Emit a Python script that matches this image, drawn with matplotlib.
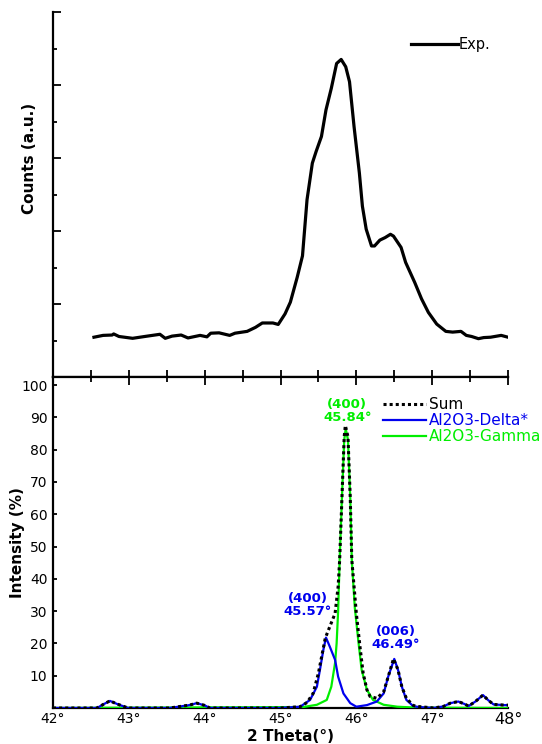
import matplotlib
matplotlib.use("Agg")
import matplotlib.pyplot as plt
from matplotlib.ticker import MultipleLocator

# ---------------- data ----------------
exp_x = [42.54, 42.66, 42.78, 42.80, 42.87, 43.05, 43.21, 43.41, 43.48, 43.57, 43.69, 43.78,
         43.94, 44.03, 44.08, 44.19, 44.33, 44.40, 44.56, 44.67, 44.76, 44.90, 44.97, 45.06,
         45.13, 45.22, 45.29, 45.35, 45.42, 45.47, 45.54, 45.60, 45.67, 45.74, 45.80, 45.86,
         45.91, 45.97, 46.04, 46.08, 46.13, 46.20, 46.24, 46.31, 46.38, 46.45, 46.49, 46.59,
         46.65, 46.77, 46.86, 46.95, 47.06, 47.18, 47.27, 47.38, 47.45, 47.52, 47.61, 47.68,
         47.77, 47.91, 48.00]
exp_y = [10.9, 11.4, 11.5, 11.8, 11.1, 10.6, 11.1, 11.7, 10.6, 11.2, 11.5, 10.7,
         11.4, 11.0, 12.0, 12.1, 11.4, 12.0, 12.5, 13.6, 14.8, 14.8, 14.4, 17.3,
         20.5, 27.3, 33.2, 48.6, 58.6, 61.8, 65.9, 73.2, 79.1, 85.9, 87.0, 85.0,
         80.9, 68.6, 55.9, 46.8, 40.5, 35.9, 35.9, 37.5, 38.2, 39.1, 38.6, 35.5,
         31.4, 25.9, 21.4, 17.7, 14.5, 12.5, 12.3, 12.5, 11.4, 11.1, 10.5, 10.8,
         10.9, 11.4, 10.9]

sum_x = [42.0, 42.58, 42.67, 42.75, 42.85, 42.99, 43.54, 43.80, 43.895, 44.0, 44.07, 45.0,
         45.26, 45.35, 45.43, 45.50, 45.56, 45.59, 45.65, 45.72, 45.76, 45.78, 45.81, 45.84,
         45.855, 45.89, 45.92, 45.94, 46.0, 46.05, 46.09, 46.14, 46.18, 46.27, 46.36, 46.42,
         46.49, 46.55, 46.60, 46.66, 46.75, 46.80, 47.02, 47.15, 47.24, 47.345, 47.42, 47.48,
         47.57, 47.67, 47.74, 47.81, 47.95, 48.0]
sum_y = [0, 0, 1.2, 2.2, 1.2, 0, 0, 0.9, 1.5, 0.8, 0, 0,
         0.4, 1.7, 4.5, 10.8, 18.0, 21.6, 25.2, 29.3, 37.6, 45.8, 65.0, 84.0,
         87.5, 84.0, 65.0, 46.0, 29.3, 18.6, 10.8, 5.6, 3.6, 3.0, 5.0, 9.7,
         15.2, 11.8, 6.6, 3.0, 0.8, 0.5, 0, 0.5, 1.5, 2.0, 1.3, 0.6,
         2.0, 4.0, 2.4, 1.1, 0.9, 0.9]

delta_x = [42.0, 42.58, 42.67, 42.75, 42.85, 42.99, 43.54, 43.80, 43.895, 44.0, 44.07, 45.0,
           45.26, 45.39, 45.48, 45.52, 45.565, 45.60, 45.65, 45.72, 45.76, 45.83, 45.92, 46.00,
           46.14, 46.27, 46.36, 46.42, 46.50, 46.55, 46.60, 46.66, 46.75, 46.82, 47.02, 47.15,
           47.24, 47.345, 47.42, 47.48, 47.57, 47.67, 47.74, 47.81, 47.95, 48.0]
delta_y = [0, 0, 1.2, 2.2, 1.2, 0, 0, 0.9, 1.5, 0.8, 0, 0,
           0.4, 2.5, 6.6, 11.8, 18.0, 21.8, 19.0, 14.9, 9.7, 4.5, 1.5, 0.4,
           0.9, 2.0, 4.5, 9.7, 15.2, 11.8, 6.6, 2.5, 0.6, 0.3, 0, 0.5,
           1.5, 2.0, 1.3, 0.6, 2.0, 4.0, 2.4, 1.1, 0.9, 0.9]

gamma_x = [42.0, 45.30, 45.48, 45.61, 45.67, 45.72, 45.74, 45.76, 45.78, 45.81, 45.84, 45.86,
           45.89, 45.92, 45.94, 45.98, 46.03, 46.07, 46.14, 46.22, 46.36, 46.54, 46.8, 48.0]
gamma_y = [0, 0.3, 1.0, 2.5, 6.6, 14.0, 20.0, 30.0, 46.0, 65.0, 83.0, 86.5,
           83.0, 65.0, 46.0, 31.0, 20.0, 11.8, 5.6, 2.5, 1.0, 0.4, 0.1, 0]

x_ticks = [42, 43, 44, 45, 46, 47, 48]
x_ticklabels = ["42°", "43°", "44°", "45°", "46°", "47°", "48°"]
y_ticks = [10, 20, 30, 40, 50, 60, 70, 80, 90, 100]

annotations = [
    ("(400)\n45.84°", 45.88, 88.0, "#00ee00"),
    ("(400)\n45.57°", 45.36, 28.0, "#0000ee"),
    ("(006)\n46.49°", 46.52, 17.8, "#0000ee"),
]

# ---------------- figure ----------------
W, H = 542, 744
fig = plt.figure(figsize=(W / 100, H / 100), dpi=100)
plt.rcParams['font.family'] = ['DejaVu Sans']

left = 53 / W
width = (508 - 53) / W
ax1 = fig.add_axes([left, 1 - 377 / H, width, (377 - 12) / H])
ax2 = fig.add_axes([left, 1 - 708 / H, width, (708 - 377) / H])

# top panel
ax1.plot(exp_x, exp_y, color="black", lw=2.3, label="Exp.", solid_joinstyle="round")
ax1.set_xlim(42, 48)
ax1.set_ylim(0, 100)
for s in ["top", "right"]:
    ax1.spines[s].set_visible(False)
for s in ["left", "bottom"]:
    ax1.spines[s].set_linewidth(1.6)
ax1.yaxis.set_major_locator(MultipleLocator(20))
ax1.yaxis.set_minor_locator(MultipleLocator(10))
ax1.xaxis.set_major_locator(MultipleLocator(0.5))
ax1.tick_params(axis="y", which="major", direction="in", length=6, width=1.3, labelleft=False)
ax1.tick_params(axis="y", which="minor", direction="in", length=3, width=1.3)
ax1.tick_params(axis="x", which="major", direction="in", length=5, width=1.3, labelbottom=False)
ax1.set_ylabel("Counts (a.u.)", fontsize=11, fontweight="bold")
ax1.yaxis.set_label_coords(-0.036, 0.60)
ax1.legend(loc="upper left", bbox_to_anchor=(411 / W - 0.0, 1 - 37 / H),
           bbox_transform=fig.transFigure, frameon=False, fontsize=10.5,
           handlelength=3.2, handletextpad=0.05, borderpad=0, borderaxespad=0)

# bottom panel
ax2.plot(gamma_x, gamma_y, color="#00ee00", lw=1.6, label="Al2O3-Gamma", zorder=3)
ax2.plot(delta_x, delta_y, color="#0000ee", lw=1.6, label="Al2O3-Delta*", zorder=4)
ax2.plot(sum_x, sum_y, color="black", lw=2.2, linestyle=(0, (1.0, 1.0)), label="Sum", zorder=5)
ax2.set_xlim(42, 48)
ax2.set_ylim(0, 102.5)
ax2.spines["right"].set_visible(False)
for s in ["left", "bottom", "top"]:
    ax2.spines[s].set_linewidth(1.6)
ax2.set_xticks(x_ticks)
ax2.set_xticklabels(x_ticklabels)
ax2.xaxis.set_minor_locator(MultipleLocator(0.5))
ax2.set_yticks(y_ticks)
ax2.tick_params(axis="x", which="major", direction="in", top=True, bottom=False,
                labelbottom=True, length=6, width=1.3, labelsize=10, pad=3)
ax2.tick_params(axis="x", which="minor", direction="in", top=True, bottom=False,
                length=3.5, width=1.3)
ax2.tick_params(axis="y", direction="in", length=3, width=1.3, labelsize=10, pad=4)
labs = ax2.get_xticklabels()
labs[-1].set_fontsize(11.5)
ax2.set_ylabel("Intensity (%)", fontsize=11, fontweight="bold")
ax2.yaxis.set_label_coords(-0.062, 0.5)
ax2.set_xlabel("2 Theta(°)", fontsize=11, fontweight="bold")
ax2.xaxis.set_label_coords(0.523, -0.062)

for txt, x, y, c in annotations:
    ax2.text(x, y, txt, color=c, fontsize=9.5, fontweight="bold", ha="center",
             va="bottom", linespacing=0.95)

handles, labels = ax2.get_legend_handles_labels()
order = [2, 1, 0]
ax2.legend([handles[i] for i in order], [labels[i] for i in order],
           loc="upper left", bbox_to_anchor=(383 / W, 1 - 397 / H),
           bbox_transform=fig.transFigure, frameon=False, fontsize=11,
           handlelength=2.8, handletextpad=0.2, labelspacing=0.08,
           borderpad=0, borderaxespad=0, labelcolor="linecolor")

fig.savefig("out.png", dpi=100)
